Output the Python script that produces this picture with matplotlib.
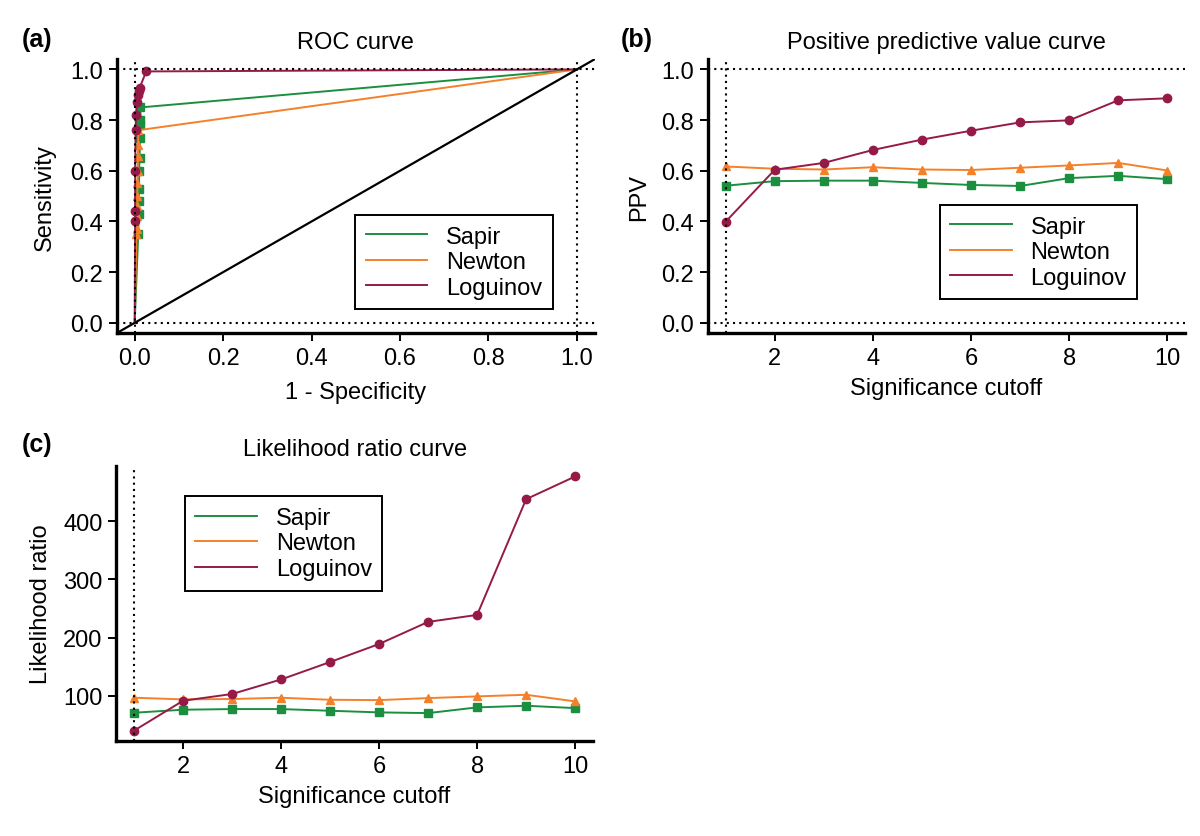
import matplotlib
matplotlib.use('Agg')
import matplotlib.pyplot as plt

plt.rcParams['font.family'] = ['Liberation Sans', 'DejaVu Sans']
plt.rcParams['font.size'] = 16

# colours for the three methods
methods = ['Sapir', 'Newton', 'Loguinov']
colors = ['#1b8f3f', '#f4812a', '#951a48']
markers = ['s', '^', 'o']

# ROC points (1 - specificity, sensitivity)
roc_fpr_sapir = [0.0, 0.008, 0.009, 0.009, 0.010, 0.010, 0.011, 0.012, 0.012, 0.013, 0.013, 1.0]
roc_tpr_sapir = [0.0, 0.35, 0.43, 0.48, 0.53, 0.60, 0.65, 0.73, 0.78, 0.80, 0.85, 1.0]
roc_fpr_newton = [0.0, 0.004, 0.005, 0.005, 0.006, 0.006, 0.006, 0.007, 0.007, 0.008, 0.008, 1.0]
roc_tpr_newton = [0.0, 0.35, 0.37, 0.42, 0.46, 0.50, 0.55, 0.60, 0.66, 0.70, 0.76, 1.0]
roc_fpr_loguinov = [0.0, 0.001, 0.001, 0.001, 0.002, 0.003, 0.005, 0.007, 0.009, 0.011, 0.026, 1.0]
roc_tpr_loguinov = [0.0, 0.40, 0.44, 0.60, 0.76, 0.82, 0.87, 0.90, 0.913, 0.926, 0.992, 1.0]

# significance cutoffs
cutoff = [1, 2, 3, 4, 5, 6, 7, 8, 9, 10]

# positive predictive value, panel (b)
ppv_sapir = [0.541, 0.559, 0.561, 0.561, 0.552, 0.544, 0.540, 0.571, 0.580, 0.567]
ppv_newton = [0.617, 0.608, 0.605, 0.614, 0.605, 0.603, 0.612, 0.621, 0.631, 0.601]
ppv_loguinov = [0.399, 0.604, 0.631, 0.682, 0.723, 0.758, 0.791, 0.799, 0.878, 0.886]

# likelihood ratio, panel (c)
lr_sapir = [70.8, 76.0, 77.1, 77.1, 74.2, 71.4, 70.2, 80.0, 82.8, 78.8]
lr_newton = [96.6, 93.8, 94.4, 96.6, 93.1, 92.5, 96.0, 98.9, 101.7, 90.3]
lr_loguinov = [40, 91.4, 103, 128, 158, 189, 227, 239, 438, 477]

dot = (0, (1.0, 2.0))
msize = [6, 5.5, 6]
fs = 17

fig = plt.figure(figsize=(12, 8.37), dpi=100)
ax_a = fig.add_axes([0.0975, 0.601, 0.398, 0.327])
ax_b = fig.add_axes([0.590, 0.601, 0.3975, 0.327])
ax_c = fig.add_axes([0.097, 0.1137, 0.397, 0.328])


def style(ax):
    for s in ['top', 'right']:
        ax.spines[s].set_visible(False)
    for s in ['left', 'bottom']:
        ax.spines[s].set_linewidth(2.4)
    ax.tick_params(direction='out', length=6, width=1.4, labelsize=fs, pad=4)


def add_legend(ax, x, y):
    leg = ax.legend(loc='upper left', bbox_to_anchor=(x, y), bbox_transform=fig.transFigure,
                    fontsize=fs, fancybox=False, framealpha=1, edgecolor='black',
                    handlelength=2.6, handletextpad=0.8, labelspacing=0.15,
                    borderpad=0.45, borderaxespad=0)
    leg.get_frame().set_linewidth(1.4)


# (a) ROC curve
roc = [(roc_fpr_sapir, roc_tpr_sapir), (roc_fpr_newton, roc_tpr_newton),
       (roc_fpr_loguinov, roc_tpr_loguinov)]
for (fx, ty), name, c, m, ms in zip(roc, methods, colors, markers, msize):
    ax_a.plot(fx, ty, color=c, lw=1.4, label=name)
    ax_a.plot(fx[1:-1], ty[1:-1], ls='none', marker=m, color=c, ms=ms)
ax_a.axline((0, 0), (1, 1), color='black', lw=1.6)
for v in [0, 1]:
    ax_a.axhline(v, color='black', ls=dot, lw=1.5)
    ax_a.axvline(v, color='black', ls=dot, lw=1.5)
ax_a.set_xlim(-0.04, 1.04)
ax_a.set_ylim(-0.04, 1.04)
ticks = [0, 0.2, 0.4, 0.6, 0.8, 1.0]
ax_a.set_xticks(ticks, ['%.1f' % t for t in ticks])
ax_a.set_yticks(ticks, ['%.1f' % t for t in ticks])
ax_a.set_xlabel('1 - Specificity', fontsize=fs, labelpad=9)
ax_a.set_ylabel('Sensitivity', fontsize=fs, labelpad=10)
ax_a.set_title('ROC curve', fontsize=fs, pad=8)
style(ax_a)
add_legend(ax_a, 0.296, 0.742)

# (b) PPV curve
for vals, name, c, m, ms in zip([ppv_sapir, ppv_newton, ppv_loguinov], methods, colors, markers, msize):
    ax_b.plot(cutoff, vals, color=c, lw=1.4, label=name)
    ax_b.plot(cutoff, vals, ls='none', marker=m, color=c, ms=ms)
for v in [0, 1]:
    ax_b.axhline(v, color='black', ls=dot, lw=1.5)
ax_b.axvline(1, color='black', ls=dot, lw=1.5)
ax_b.set_xlim(0.64, 10.36)
ax_b.set_ylim(-0.04, 1.04)
ax_b.set_xticks([2, 4, 6, 8, 10])
ax_b.set_yticks(ticks, ['%.1f' % t for t in ticks])
ax_b.set_xlabel('Significance cutoff', fontsize=fs, labelpad=6)
ax_b.set_ylabel('PPV', fontsize=fs, labelpad=8)
ax_b.set_title('Positive predictive value curve', fontsize=fs, pad=8)
style(ax_b)
add_legend(ax_b, 0.783, 0.754)

# (c) likelihood ratio curve
for vals, name, c, m, ms in zip([lr_sapir, lr_newton, lr_loguinov], methods, colors, markers, msize):
    ax_c.plot(cutoff, vals, color=c, lw=1.4, label=name)
    ax_c.plot(cutoff, vals, ls='none', marker=m, color=c, ms=ms)
ax_c.axvline(1, color='black', ls=dot, lw=1.5)
ax_c.set_xlim(0.64, 10.36)
ax_c.set_ylim(22.5, 494.5)
ax_c.set_xticks([2, 4, 6, 8, 10])
ax_c.set_yticks([100, 200, 300, 400])
ax_c.set_xlabel('Significance cutoff', fontsize=fs, labelpad=6)
ax_c.set_ylabel('Likelihood ratio', fontsize=fs, labelpad=8)
ax_c.set_title('Likelihood ratio curve', fontsize=fs, pad=8)
style(ax_c)
add_legend(ax_c, 0.154, 0.406)

# panel letters
fig.text(0.018, 0.952, '(a)', fontsize=18, fontweight='bold', va='center')
fig.text(0.517, 0.952, '(b)', fontsize=18, fontweight='bold', va='center')
fig.text(0.018, 0.468, '(c)', fontsize=18, fontweight='bold', va='center')

fig.savefig('out.png', dpi=100)
